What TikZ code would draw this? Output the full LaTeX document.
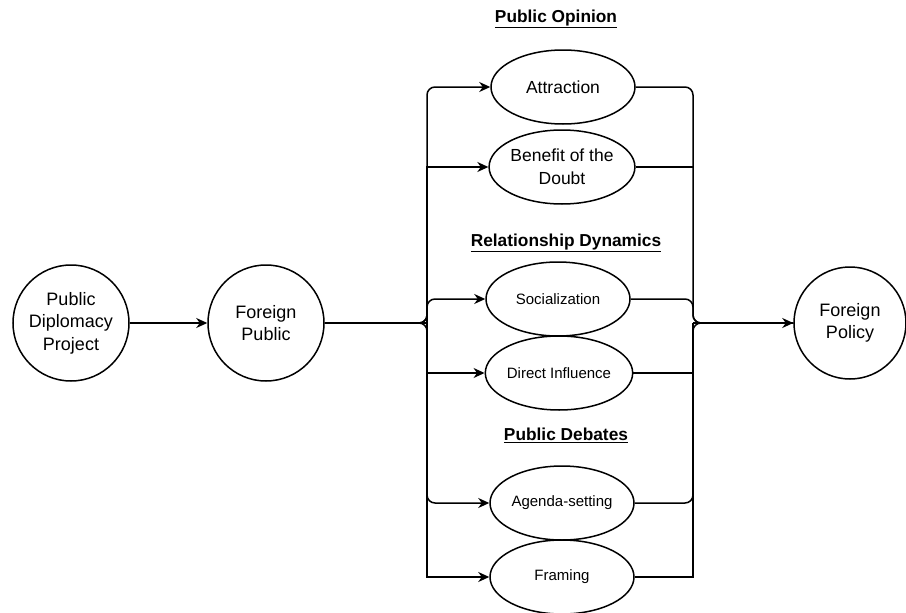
\documentclass[tikz,border=0pt]{standalone}
\usepackage{fontspec}
\setmainfont{Liberation Sans}
\usetikzlibrary{arrows.meta,shapes.geometric,positioning}

\begin{document}
\begin{tikzpicture}[>={Stealth[length=11pt,width=10pt,inset=3.5pt]},x=1pt,y=-1pt,line width=1.5pt]
  \tikzstyle{actor}=[circle,draw=black,minimum size=116pt,inner sep=0pt,align=center,font=\fontsize{18}{22.5}\selectfont]
  \tikzstyle{effect}=[ellipse,draw=black,minimum width=144pt,minimum height=74pt,inner sep=0pt,align=center,font=\fontsize{15}{18}\selectfont]
  \tikzstyle{large}=[font=\fontsize{17.5}{23}\selectfont]
  \tikzstyle{group}=[font=\bfseries\fontsize{17.3}{20}\selectfont]
  \tikzstyle{link}=[rounded corners=8pt]

  \useasboundingbox (0,0) rectangle (906,613);

  \node[actor] (pdp)  at (71,323)  {Public\\Diplomacy\\Project};
  \node[actor] (fpub) at (266,323) {Foreign\\Public};
  \node[actor] (fpol) at (850,323) [minimum size=112pt] {Foreign\\Policy};

  % groups of effects
  \node[group] (opinion)  at (556,19)  {\underline{Public Opinion}};
  \node[group] (dynamics) at (566,243) {\underline{Relationship Dynamics}};
  \node[group] (debates)  at (566,435) {\underline{Public Debates}};

  \node[effect,large] (attr) at (563,87)  {Attraction};
  \node[effect,large] (ben)  at (562,167) {Benefit of the\\Doubt};
  \node[effect]       (soc)  at (558,299) {Socialization};
  \node[effect]       (dinf) at (559,373) {Direct Influence};
  \node[effect]       (agen) at (562,503) {Agenda-setting};
  \node[effect]       (fram) at (562,577) {Framing};

  \coordinate (jl) at (427,323);
  \coordinate (jr) at (693,323);

  \draw[->] (pdp) -- (fpub);

  % fan out
  \draw (fpub) -- (jl);
  \draw[->,link] (fpub.east) -- (jl) |- (attr.west);
  \draw[->] (jl) |- (ben.west);
  \draw[->,link] (fpub.east) -- (jl) |- (soc.west);
  \draw[->] (jl) |- (dinf.west);
  \draw[->,link] (fpub.east) -- (jl) |- (agen.west);
  \draw[->] (jl) |- (fram.west);

  % fan in
  \draw[link] (attr.east) -| (jr) -- (fpol.west);
  \draw (ben.east) -- (ben.east -| jr);
  \draw[link] (soc.east) -| (jr) -- (fpol.west);
  \draw (dinf.east) -- (dinf.east -| jr);
  \draw[link] (agen.east) -| (jr) -- (fpol.west);
  \draw (fram.east) -| (jr);
  \draw[->] (jr) -- (fpol);
\end{tikzpicture}
\end{document}
